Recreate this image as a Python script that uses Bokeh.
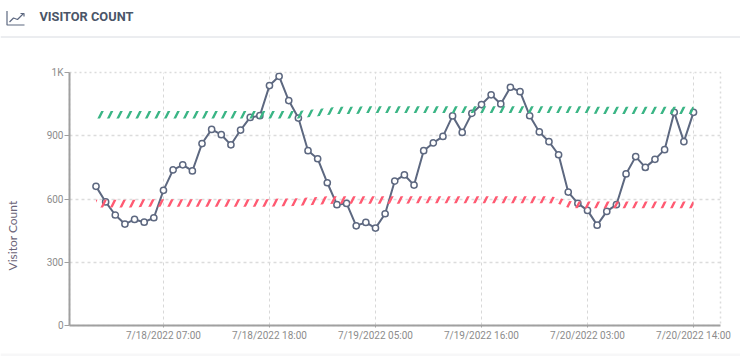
from bokeh.plotting import figure
from bokeh.models import FixedTicker
from bokeh.core.properties import value
from bokeh.embed import file_html
from bokeh.resources import INLINE

hours = list(range(63))
visitors = [660, 586, 524, 481, 503, 490, 511, 641, 738, 762, 733, 863, 930, 905, 857, 927,
            987, 995, 1138, 1182, 1067, 984, 829, 791, 677, 573, 579, 473, 489, 462, 530,
            685, 714, 666, 829, 866, 897, 994, 916, 1006, 1048, 1094, 1051, 1130, 1109, 995,
            918, 872, 810, 633, 579, 546, 476, 541, 573, 719, 801, 750, 788, 834, 1011, 872, 1011]
green_low = [982, 982, 982, 982, 982, 982, 982, 982, 982, 982, 982, 982, 982, 982, 982, 982,
             982, 982, 982, 982, 982, 982, 988, 993, 998, 1003, 1003, 1003, 1008, 1008, 1008,
             1008, 1008, 1008, 1008, 1008, 1008, 1008, 1008, 1008, 1008, 1008, 1008, 1008, 1008, 1008,
             1008, 1008, 1008, 1008, 1008, 1008, 1003, 1003, 1003, 1003, 1003, 1003, 1003, 1003, 1003, 1003, 1003]
green_high = [1017, 1017, 1017, 1017, 1017, 1017, 1017, 1017, 1017, 1017, 1017, 1017, 1017, 1017, 1017, 1017,
              1017, 1017, 1017, 1017, 1017, 1017, 1022, 1027, 1032, 1037, 1037, 1037, 1040, 1040, 1040,
              1040, 1040, 1040, 1040, 1040, 1040, 1040, 1040, 1040, 1040, 1040, 1040, 1040, 1040, 1040,
              1040, 1040, 1040, 1040, 1040, 1040, 1037, 1037, 1037, 1037, 1037, 1037, 1037, 1037, 1037, 1037, 1037]
red_low = [560, 560, 560, 560, 560, 563, 563, 563, 563, 563, 563, 563, 563, 563, 563, 563,
           563, 563, 563, 566, 566, 568, 570, 573, 576, 578, 578, 578, 578, 578, 578,
           578, 578, 580, 580, 580, 580, 580, 580, 580, 580, 580, 580, 580, 580, 580,
           580, 580, 576, 558, 556, 556, 556, 556, 556, 556, 556, 556, 556, 556, 556, 556, 556]
red_high = [596, 596, 596, 596, 596, 599, 599, 599, 599, 599, 599, 599, 599, 599, 599, 599,
            599, 599, 599, 602, 602, 604, 607, 610, 613, 613, 613, 613, 613, 613, 613,
            613, 613, 613, 613, 613, 613, 613, 613, 613, 613, 613, 613, 613, 613, 613,
            613, 613, 607, 590, 588, 588, 588, 588, 588, 588, 588, 588, 588, 588, 588, 588, 588]
x_ticks = [7, 18, 29, 40, 51, 62]
x_labels = ["7/18/2022 07:00", "7/18/2022 18:00", "7/19/2022 05:00",
            "7/19/2022 16:00", "7/20/2022 03:00", "7/20/2022 14:00"]
y_ticks = [0, 300, 600, 900, 1200]
y_labels = ["0", "300", "600", "900", "1K"]

FONT = "Roboto"
LINE = "#5d6880"
PIN = {"position": "absolute", "left": "0px", "top": "0px"}

# Backing layer: page furniture in page pixels (header, rule, axis title, bottom edge)
bg = figure(width=740, height=356, x_range=(0, 740), y_range=(356, 0), toolbar_location=None,
            output_backend="svg", min_border=0, outline_line_color=None, styles=PIN)
bg.axis.visible = False
bg.grid.visible = False
bg.multi_line([[6.5, 6.5, 24], [9, 13, 17, 23], [20, 23.5, 23.5]],
              [[10.5, 24.5, 24.5], [21.5, 17.5, 19, 13], [13, 13, 16]],
              line_color=LINE, line_width=1.2)
bg.segment(0, 36.5, 740, 36.5, line_color="#d8dbe1", line_width=1)
bg.quad(left=0, right=740, top=353, bottom=356, fill_color="#f7f7f8", line_color=None)
bg.text([39], [16], text=["VISITOR COUNT"], text_font=value(FONT), text_font_style="bold",
        text_font_size="12.8px", text_color="#4a5568", text_baseline="middle", text_align="left")
bg.text([12], [235], text=["Visitor Count"], angle=1.5708, text_font=value("Lato"),
        text_font_size="12px", text_color="#6b6478", text_baseline="middle", text_align="center")

# The chart itself
p = figure(width=740, height=356, x_range=(-2.75, 64.8), y_range=(0, 1200), toolbar_location=None,
           output_backend="svg", min_border_left=69, min_border_right=20, min_border_top=72,
           min_border_bottom=31, outline_line_color="#dcdcdc", outline_line_dash="2 3",
           outline_line_width=1.5, background_fill_color=None, border_fill_color=None, styles=PIN)
p.xaxis.ticker = FixedTicker(ticks=x_ticks)
p.yaxis.ticker = FixedTicker(ticks=y_ticks)
p.xaxis.major_label_overrides = dict(zip(x_ticks, x_labels))
p.yaxis.major_label_overrides = dict(zip(y_ticks, y_labels))
for ax in (p.xaxis, p.yaxis):
    ax.axis_line_color = "#a0a0a0"
    ax.axis_line_width = 2
    ax.major_tick_line_color = "#a0a0a0"
    ax.major_tick_out = 5
    ax.major_tick_in = 0
    ax.minor_tick_line_color = None
    ax.major_label_text_color = "#8c8c8c"
    ax.major_label_text_font = FONT
    ax.major_label_text_font_size = "10px"
p.xaxis.major_tick_out = 2
p.xaxis.major_label_standoff = 2
p.yaxis.major_label_standoff = 1
p.xgrid.grid_line_color = "#d8d8d8"
p.xgrid.grid_line_dash = "3 3"
p.ygrid.grid_line_color = "#dcdcdc"
p.ygrid.grid_line_dash = "3 3"
p.ygrid.grid_line_width = 1.5

p.line(hours, visitors, line_color=LINE, line_width=2)
p.scatter(hours, visitors, size=6.2, fill_color="white", line_color=LINE, line_width=1.5)

p.varea(hours, green_low, green_high, fill_alpha=0, hatch_pattern="right_diagonal_line",
        hatch_color="#3ab585", hatch_scale=19, hatch_weight=2.4)
p.varea(hours, red_low, red_high, fill_alpha=0, hatch_pattern="right_diagonal_line",
        hatch_color="#ff5a72", hatch_scale=19, hatch_weight=2.4)

open("out.html", "w").write(file_html([bg, p], INLINE))
